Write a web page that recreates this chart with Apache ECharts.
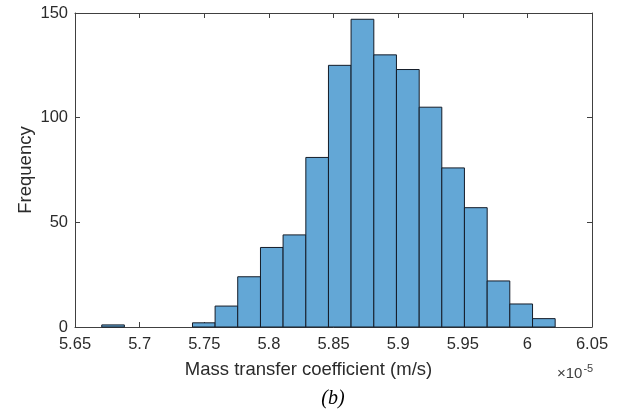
<!DOCTYPE html>
<html>
<head>
<meta charset="utf-8">
<script src="https://cdn.jsdelivr.net/npm/echarts@6/dist/echarts.min.js"></script>
<style>
html,body{margin:0;padding:0;background:#fff;}
#chart{width:617px;height:415px;}
</style>
</head>
<body>
<div id="chart"></div>
<script>
// Histogram bin edges (x 1e-5 m/s) and counts
const binEdges = [5.6707, 5.6882, 5.7058, 5.7233, 5.7409, 5.7584, 5.7759, 5.7935, 5.8110, 5.8286,
                  5.8461, 5.8636, 5.8812, 5.8987, 5.9163, 5.9338, 5.9513, 5.9689, 5.9864, 6.0040, 6.0215];
const counts = [1, 0, 0, 0, 2, 10, 24, 38, 44, 81, 125, 147, 130, 123, 105, 76, 57, 22, 11, 4];
const xTickLabels = ['5.65','5.7','5.75','5.8','5.85','5.9','5.95','6','6.05'];
const yTickLabels = ['0','50','100','150'];
const xLabel = 'Mass transfer coefficient (m/s)';
const yLabel = 'Frequency';
const caption = '(b)';

const data = counts.map((c, i) => [binEdges[i], binEdges[i + 1], c]);

const axisColor = '#404040';
const textColor = '#2b2b2b';
const font = '"Liberation Sans", Arial, Helvetica, sans-serif';

const chart = echarts.init(document.getElementById('chart'), null, {renderer: 'canvas'});

const commonX = {
  type: 'value', min: 5.65, max: 6.05, interval: 0.05,
  axisLine: {show: true, onZero: false, lineStyle: {color: axisColor, width: 1}},
  axisTick: {show: true, inside: true, length: 5, lineStyle: {color: axisColor}},
  splitLine: {show: false}
};
const commonY = {
  type: 'value', min: 0, max: 150, interval: 50,
  axisLine: {show: true, onZero: false, lineStyle: {color: axisColor, width: 1}},
  axisTick: {show: true, inside: true, length: 5, lineStyle: {color: axisColor}},
  splitLine: {show: false}
};

chart.setOption({
  animation: false,
  backgroundColor: '#ffffff',
  grid: {left: 75, right: 25, top: 13, bottom: 88, containLabel: false},
  xAxis: [
    Object.assign({}, commonX, {
      position: 'bottom',
      axisLabel: {show: true, color: textColor, fontSize: 16.5, fontFamily: font, margin: 9,
        formatter: (v) => { const s = String(+v.toFixed(2)); return xTickLabels.includes(s) ? s : ''; }}
    }),
    Object.assign({}, commonX, {position: 'top', axisLabel: {show: false}})
  ],
  yAxis: [
    Object.assign({}, commonY, {
      position: 'left',
      axisLabel: {show: true, color: textColor, fontSize: 16.5, fontFamily: font, margin: 7,
        formatter: (v) => { const s = String(Math.round(v)); return yTickLabels.includes(s) ? s : ''; }}
    }),
    Object.assign({}, commonY, {position: 'right', axisLabel: {show: false}})
  ],
  graphic: [
    {type: 'text', left: 'center', x: 0, top: 360,
      style: {text: xLabel, fill: textColor, font: '18.5px ' + font}},
    {type: 'text', x: 26, y: 170, rotation: Math.PI / 2,
      style: {text: yLabel, fill: textColor, font: '18.5px ' + font, textAlign: 'center', textVerticalAlign: 'middle'}},
    {type: 'text', x: 557, y: 374,
      style: {text: '{a|×10}{b|-5}', fill: '#404040', textVerticalAlign: 'middle',
        rich: {a: {fontSize: 15, fontFamily: font, fill: '#404040'},
               b: {fontSize: 11, fontFamily: font, fill: '#404040', verticalAlign: 'top', padding: [0, 0, 10, 1]}}}},
    {type: 'text', x: 333, y: 399,
      style: {text: caption, fill: '#000000', font: 'italic 20px "Liberation Serif", "Times New Roman", serif', textAlign: 'center', textVerticalAlign: 'middle'}}
  ],
  series: [{
    type: 'custom',
    xAxisIndex: 0, yAxisIndex: 0,
    encode: {x: [0, 1], y: 2},
    data: data,
    renderItem: function (params, api) {
      if (api.value(2) <= 0) return null;
      const p0 = api.coord([api.value(0), 0]);
      const p1 = api.coord([api.value(1), api.value(2)]);
      return {
        type: 'rect',
        shape: {x: p0[0], y: p1[1], width: p1[0] - p0[0], height: p0[1] - p1[1]},
        style: {fill: '#63A7D6', stroke: '#141c28', lineWidth: 1}
      };
    }
  }]
});
</script>
</body>
</html>
